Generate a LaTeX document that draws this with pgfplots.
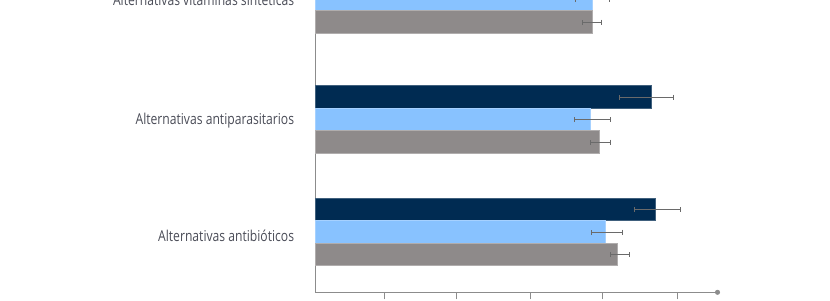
\documentclass[border=0pt]{standalone}
\usepackage{pgfplots}
\pgfplotsset{compat=1.18}
\usetikzlibrary{arrows.meta}
\usepackage{fontspec}
\setmainfont{Open Sans}[FakeStretch=0.81]
\definecolor{cdark}{HTML}{002B52}
\definecolor{clight}{HTML}{88C2FF}
\definecolor{cgray}{HTML}{8E8A8A}
\definecolor{caxis}{HTML}{8C8C8C}
\definecolor{cerr}{HTML}{6A6A6A}
\definecolor{ctext}{HTML}{4A4C57}
\begin{document}
\begin{tikzpicture}
\path[use as bounding box] (0,0) rectangle (830pt,-300pt);
\clip (0,0) rectangle (830pt,-300pt);
\begin{axis}[
  at={(315pt,-292.3pt)}, anchor=south west,
  scale only axis, width=405pt, height=362.3pt,
  xmin=0, xmax=5.54, ymin=-292.3, ymax=70,
  axis x line*=bottom, axis y line*=left,
  x axis line style={draw=caxis, line width=0.9pt, -{Circle[length=5pt]}},
  y axis line style={draw=caxis, line width=0.9pt},
  xtick={0.953,1.938,2.941,3.930,4.952}, xticklabels={},
  tick align=outside, major tick length=7pt,
  xtick style={draw=caxis, line width=0.9pt},
  ytick={-235.5,-121,0},
  yticklabels={Alternativas antibióticos, Alternativas antiparasitarios, Alternativas vitaminas sintéticas},
  ytick style={draw=none},
  yticklabel style={font=\fontsize{15}{17}\selectfont, text=ctext, inner sep=0pt, xshift=-13.7pt},
  xbar, bar width=22.5, bar shift=0pt,
  clip=false,
  error bars/error bar style={draw=cerr, line width=1pt},
  error bars/error mark options={draw=cerr, line width=1pt, rotate=90, mark size=2.5pt},
]
% dark series (top bar of each group)
\addplot[fill=cdark, draw=cdark!75!white, line width=0.6pt,
  error bars/.cd, x dir=both, x explicit]
  coordinates {
  (4.655,-209.5) += (0.338,0) -= (0.287,0)
  (4.601,-97) += (0.306,0) -= (0.438,0)
  (4.55,23) += (0.30,0) -= (0.30,0)
  };
% light blue series (middle bar)
\addplot[fill=clight, draw=clight!75!white, line width=0.6pt,
  error bars/.cd, x dir=both, x explicit]
  coordinates {
  (3.977,-232) += (0.233,0) -= (0.192,0)
  (3.772,-119.5) += (0.268,0) -= (0.228,0)
  (3.799,0.5) += (0.227,0) -= (0.242,0)
  };
% gray series (bottom bar)
\addplot[fill=cgray, draw=cgray!70!white, line width=0.6pt,
  error bars/.cd, x dir=both, x explicit]
  coordinates {
  (4.135,-254.5) += (0.164,0) -= (0.090,0)
  (3.885,-142) += (0.155,0) -= (0.123,0)
  (3.789,-22) += (0.127,0) -= (0.133,0)
  };
\end{axis}
\end{tikzpicture}
\end{document}
